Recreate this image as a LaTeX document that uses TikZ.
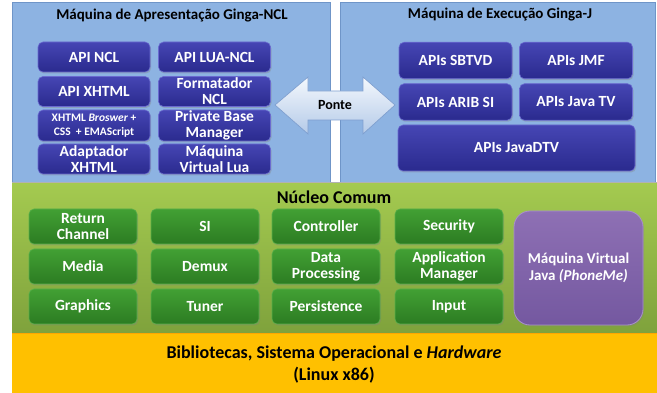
\documentclass[tikz,border=0pt]{standalone}
\usepackage{fontspec}
\setmainfont{Carlito}
\usetikzlibrary{shadows}
\definecolor{panelblue}{HTML}{8DB3E2}
\definecolor{panelblueedge}{HTML}{6F95C8}
\definecolor{nodeblueT}{HTML}{4646B4}
\definecolor{nodeblueB}{HTML}{2A2A8E}
\definecolor{nodeblueedge}{HTML}{6A6AD0}
\definecolor{greenT}{HTML}{A4CA50}
\definecolor{greenB}{HTML}{7FA23C}
\definecolor{gnodeT}{HTML}{42A034}
\definecolor{gnodeB}{HTML}{2C7C22}
\definecolor{gnodeedge}{HTML}{5BB04A}
\definecolor{purpT}{HTML}{8E70B4}
\definecolor{purpB}{HTML}{7458A0}
\definecolor{purpedge}{HTML}{A890CC}
\definecolor{yell}{HTML}{FFC000}
\definecolor{arrowT}{HTML}{F4F8FD}
\definecolor{arrowB}{HTML}{B4CAE8}
\definecolor{arrowedge}{HTML}{7F9FCF}
\tikzset{
  panel/.style={fill=panelblue, draw=panelblueedge, line width=0.8pt},
  bluebox/.style={rounded corners=5pt, top color=nodeblueT, bottom color=nodeblueB,
    draw=nodeblueedge, line width=0.6pt, text=white, align=center,
    font=\fontsize{15.5}{16}\selectfont\bfseries, inner sep=0pt,
    drop shadow={opacity=0.35, shadow xshift=1pt, shadow yshift=-1.5pt}},
  greenbox/.style={rounded corners=5pt, top color=gnodeT, bottom color=gnodeB,
    draw=gnodeedge, line width=0.6pt, text=white, align=center,
    font=\fontsize{15.5}{16}\selectfont\bfseries, inner sep=0pt,
    minimum width=108pt, minimum height=35pt,
    drop shadow={opacity=0.35, shadow xshift=1pt, shadow yshift=-1.5pt}},
  titletext/.style={font=\fontsize{15}{17}\selectfont\bfseries, text=black},
}
\begin{document}
\begin{tikzpicture}[x=1pt,y=-1pt]
\useasboundingbox (0,0) rectangle (657,393);
\fill[white] (0,0) rectangle (657,393);
% panels
\draw[panel] (12,2) rectangle (330,182);
\draw[panel] (340,2) rectangle (655,182);
\shade[top color=greenT, bottom color=greenB, draw=none] (12,183) rectangle (657,333);
\draw[gray!60, line width=0.6pt] (12,182.6) -- (657,182.6);
\fill[yell] (12,333) rectangle (657,393);
\draw[orange!70!yellow, line width=0.6pt] (12,333) -- (657,333);

% titles
\node[titletext] (tleft) at (172,16) {Máquina de Apresentação Ginga-NCL};
\node[titletext] (tright) at (500,15) {Máquina de Execução Ginga-J};
\node[font=\fontsize{18}{20}\selectfont\bfseries] (tcore) at (334,197) {Núcleo Comum};

% left panel nodes
\begin{scope}[every node/.style={bluebox, minimum width=112pt, minimum height=30pt}]
\node (apincl) at (94,57) {API NCL};
\node (apilua) at (214.5,57) {API LUA-NCL};
\node (apixhtml) at (94,91.5) {API XHTML};
\node (formatador) at (214.5,91.5) {Formatador\\NCL};
\node[font=\fontsize{11.5}{14}\selectfont\bfseries, minimum height=31pt] (browser) at (94,125.5) {XHTML \textit{Broswer} +\\CSS~~+ EMAScript};
\node[minimum height=31pt] (pbm) at (214.5,125.5) {Private Base\\Manager};
\node (adapt) at (94,159) {Adaptador\\XHTML};
\node (mvlua) at (214.5,159) {Máquina\\Virtual Lua};
\end{scope}

% right panel nodes
\begin{scope}[every node/.style={bluebox, minimum width=113pt, minimum height=36.5pt}]
\node (sbtvd) at (455.5,60.5) {APIs SBTVD};
\node (jmf) at (576,60.5) {APIs JMF};
\node (arib) at (455.5,102) {APIs ARIB SI};
\node (javatv) at (576,102) {APIs Java TV};
\node[minimum width=237pt, minimum height=46pt] (javadtv) at (516.5,148) {APIs JavaDTV};
\end{scope}

% bridge arrow
\draw[top color=arrowT, bottom color=arrowB, draw=arrowedge, line width=0.7pt, line join=miter]
  (275,105) -- (308,77) -- (308,91) -- (363,91) -- (363,77) -- (395,105)
  -- (363,134) -- (363,120) -- (308,120) -- (308,134) -- cycle;
\node[font=\fontsize{14}{16}\selectfont\bfseries] (ponte) at (335,105) {Ponte};

% core nodes
\node[greenbox] (ret) at (83,226.5) {Return\\Channel};
\node[greenbox] (si) at (205,226.5) {SI};
\node[greenbox] (ctrl) at (326,226.5) {Controller};
\node[greenbox] (sec) at (449,226.5) {Security};
\node[greenbox] (media) at (83,266.5) {Media};
\node[greenbox] (demux) at (205,266.5) {Demux};
\node[greenbox] (dp) at (326,266.5) {Data\\Processing};
\node[greenbox] (am) at (449,266.5) {Application\\Manager};
\node[greenbox] (gfx) at (83,306.5) {Graphics};
\node[greenbox] (tuner) at (205,306.5) {Tuner};
\node[greenbox] (pers) at (326,306.5) {Persistence};
\node[greenbox] (input) at (449,306.5) {Input};

\node[rounded corners=16pt, top color=purpT, bottom color=purpB, draw=purpedge, line width=0.8pt,
  minimum width=129pt, minimum height=114pt, text=white, align=center,
  font=\fontsize{15}{17}\selectfont\bfseries,
  drop shadow={opacity=0.35, shadow xshift=1pt, shadow yshift=-1.5pt}] (jvm) at (578.5,268)
  {Máquina Virtual\\Java \textit{(PhoneMe)}};

% base layer
\node[font=\fontsize{18}{22}\selectfont\bfseries, align=center] (base) at (334,365)
  {Bibliotecas, Sistema Operacional e \textit{Hardware}\\(Linux x86)};
\end{tikzpicture}
\end{document}
